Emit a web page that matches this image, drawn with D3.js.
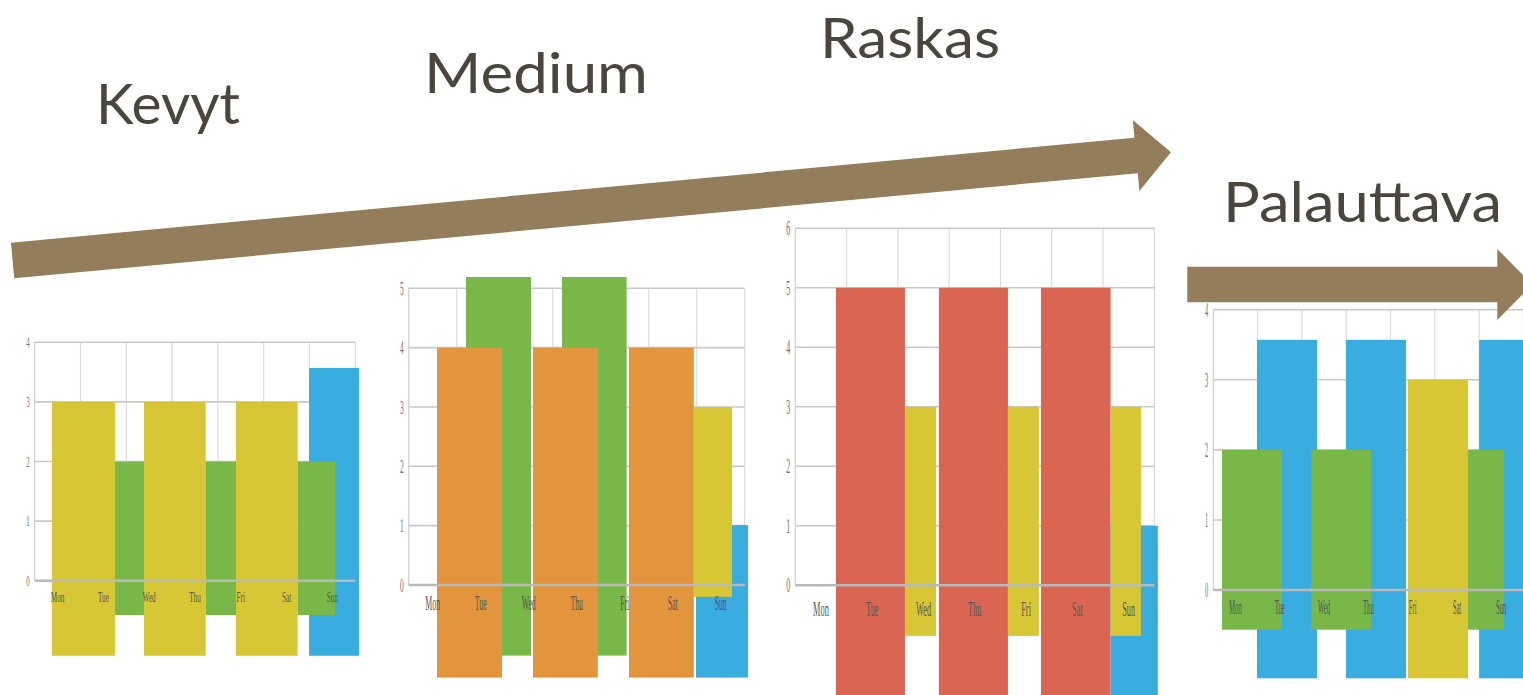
<!DOCTYPE html>
<html>
<head>
<meta charset="utf-8">
<script src="https://cdn.jsdelivr.net/npm/d3@7"></script>
<style>
  html, body { margin: 0; padding: 0; background: #fff; overflow: hidden; }
  svg { display: block; }
</style>
</head>
<body>
<script>
/* global d3 */

// weekday categories and y ticks for each panel
var days        = ["Mon", "Tue", "Wed", "Thu", "Fri", "Sat", "Sun"];
var kevytTicks  = [0, 1, 2, 3, 4];
var mediumTicks = [0, 1, 2, 3, 4, 5];
var raskasTicks = [0, 1, 2, 3, 4, 5, 6];
var palautTicks = [0, 1, 2, 3, 4];

// bars: [kind, start day, end day, low, high]  (drawn in this order)
var kevytBars = [
    ["lepo",       5.99,  7.08,  -1.26, 3.57],
    ["kevyt",      0.378, 1.753, -1.26, 3],
    ["kevyt",      2.386, 3.734, -1.26, 3],
    ["kevyt",      4.395, 5.742, -1.26, 3],
    ["palauttava", 1.753, 2.386, -0.576, 2],
    ["palauttava", 3.734, 4.395, -0.576, 2],
    ["palauttava", 5.742, 6.557, -0.576, 2]
];
var mediumBars = [
    ["palauttava", 1.194, 2.548, -1.19, 5.19],
    ["palauttava", 3.194, 4.54,  -1.19, 5.19],
    ["medium",     0.59,  1.944, -1.56, 4],
    ["medium",     2.59,  3.94,  -1.56, 4],
    ["medium",     4.59,  5.94,  -1.56, 4],
    ["lepo",       5.985, 7.07,  -1.56, 1.01],
    ["kevyt",      5.94,  6.735, -0.2,  3]
];
var raskasBars = [
    ["raskas", 0.793, 2.138, -1.9, 5],
    ["raskas", 2.80,  4.146, -1.9, 5],
    ["raskas", 4.79,  6.148, -1.9, 5],
    ["lepo",   6.148, 7.07,  -1.9, 1],
    ["kevyt",  2.138, 2.743, -0.85, 3],
    ["kevyt",  4.146, 4.75,  -0.85, 3],
    ["kevyt",  6.148, 6.739, -0.85, 3]
];
var palautBars = [
    ["lepo",       0.986, 2.34,  -1.26, 3.57],
    ["lepo",       2.995, 4.35,  -1.26, 3.57],
    ["lepo",       6.0,   7.07,  -1.26, 3.57],
    ["kevyt",      4.395, 5.75,  -1.26, 3],
    ["palauttava", 0.196, 1.544, -0.566, 2],
    ["palauttava", 2.205, 3.56,  -0.566, 2],
    ["palauttava", 5.75,  6.555, -0.566, 2]
];

var titles = ["Kevyt", "Medium", "Raskas", "Palauttava"];

var colors = {
    kevyt:      "#d8c735",
    palauttava: "#7ab749",
    lepo:       "#39ade0",
    medium:     "#e2953d",
    raskas:     "#db6553"
};

var W = 1523, H = 695;
var svg = d3.select("body").append("svg")
    .attr("width", W)
    .attr("height", H);

// layout of the four panels
var panels = [
    { bars: kevytBars,  ticks: kevytTicks,  x0: 34.7,   x1: 355.3,  yTop: 342.3, yZero: 580.7,
      labDy: 21, fs: 15, sx: 0.48 },
    { bars: mediumBars, ticks: mediumTicks, x0: 408.7,  x1: 744.7,  yTop: 288.3, yZero: 585,
      labDy: 25, fs: 20, sx: 0.39 },
    { bars: raskasBars, ticks: raskasTicks, x0: 795.3,  x1: 1154.3, yTop: 228.3, yZero: 585.3,
      labDy: 31, fs: 22, sx: 0.38 },
    { bars: palautBars, ticks: palautTicks, x0: 1213.3, x1: 1523.4, yTop: 309.7, yZero: 590,
      labDy: 24, fs: 21, sx: 0.32 }
];

var drawPanel = (p) => {
    var g    = svg.append("g");
    var yMax = d3.max(p.ticks);
    var x    = d3.scaleLinear().domain([0, days.length]).range([p.x0, p.x1]);
    var y    = d3.scaleLinear().domain([0, yMax]).range([p.yZero, p.yTop]);
    var band = d3.scaleBand().domain(days).range([p.x0, p.x1]);

    // vertical grid
    g.append("g")
     .selectAll("line")
     .data(d3.range(days.length + 1))
     .enter().append("line")
     .attr("x1", (d) => x(d)).attr("x2", (d) => x(d))
     .attr("y1", y(yMax)).attr("y2", y(0))
     .attr("stroke", (d) => d === 0 ? "#cfcfcf" : "#dcdcdc")
     .attr("stroke-width", 1.2);

    // horizontal grid
    g.append("g")
     .selectAll("line")
     .data(p.ticks.filter((d) => d > 0))
     .enter().append("line")
     .attr("x1", p.x0).attr("x2", p.x1)
     .attr("y1", (d) => y(d)).attr("y2", (d) => y(d))
     .attr("stroke", "#c9c9c9")
     .attr("stroke-width", 1.6);

    // bars
    g.append("g")
     .selectAll("rect")
     .data(p.bars)
     .enter().append("rect")
     .attr("x", (d) => x(d[1]))
     .attr("width", (d) => x(d[2]) - x(d[1]))
     .attr("y", (d) => y(d[4]))
     .attr("height", (d) => y(d[3]) - y(d[4]))
     .attr("fill", (d) => colors[d[0]]);

    // zero line on top of bars
    g.append("line")
     .attr("x1", p.x0).attr("x2", p.x1)
     .attr("y1", y(0)).attr("y2", y(0))
     .attr("stroke", "#b9b9b9")
     .attr("stroke-width", 2.4);

    // y tick labels
    var yAxis = g.append("g")
     .attr("transform", "translate(" + p.x0 + ",0)")
     .call(d3.axisLeft(y).tickValues(p.ticks).tickSize(0).tickFormat(d3.format("d")));
    yAxis.select(".domain").remove();
    yAxis.selectAll("text")
     .attr("font-family", "'Liberation Serif', serif")
     .attr("font-size", p.fs * 0.95)
     .attr("fill", "#707070")
     .attr("x", -5 / p.sx)
     .attr("dy", "0.32em")
     .attr("transform", "scale(" + p.sx + ",1)");

    // day labels
    var xAxis = g.append("g")
     .attr("transform", "translate(0," + y(0) + ")")
     .call(d3.axisBottom(band).tickSize(0));
    xAxis.select(".domain").remove();
    xAxis.selectAll("text")
     .attr("font-family", "'Liberation Serif', serif")
     .attr("font-size", p.fs)
     .attr("fill", "#555")
     .attr("y", p.labDy)
     .attr("dy", 0)
     .attr("transform", "scale(" + p.sx + ",1)");
};

panels.forEach(drawPanel);

// brown arrows
var arrowColor = "#947d5a";
var drawArrow = (cx, cy, len, angle, thick, headHalf, headLen) => {
    var t = thick / 2;
    var pts = [
        [0, -t], [len - headLen, -t], [len - headLen, -headHalf],
        [len, 0], [len - headLen, headHalf], [len - headLen, t], [0, t]
    ];
    svg.append("path")
       .attr("d", d3.line()(pts) + "Z")
       .attr("fill", arrowColor)
       .attr("transform", "translate(" + cx + "," + cy + ") rotate(" + angle + ")");
};
drawArrow(12.6, 260.5, 1163.4, -5.34, 35.6, 35.7, 35);
drawArrow(1187.3, 284.5, 345, 0, 35.6, 35.5, 35);

// titles
var titlePos = [
    { x: 96,   y: 124,   w: 144 },
    { x: 424,  y: 93,    w: 224 },
    { x: 820,  y: 58,    w: 180 },
    { x: 1223, y: 222,   w: 279 }
];
svg.append("g")
   .selectAll("text")
   .data(titles)
   .enter().append("text")
   .attr("x", (d, i) => titlePos[i].x)
   .attr("y", (d, i) => titlePos[i].y)
   .attr("textLength", (d, i) => titlePos[i].w)
   .attr("lengthAdjust", "spacingAndGlyphs")
   .attr("font-family", "Lato, 'Open Sans', sans-serif")
   .attr("font-size", 57)
   .attr("fill", "#4a463d")
   .text((d) => d);
</script>
</body>
</html>
